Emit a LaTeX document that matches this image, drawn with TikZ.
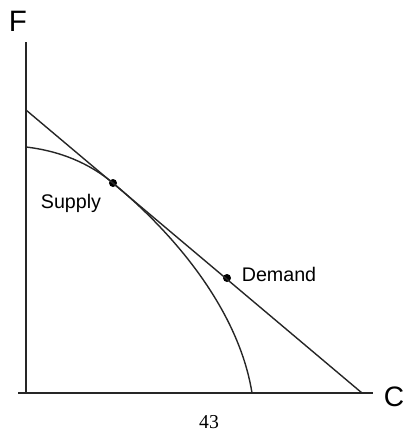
\documentclass[tikz,border=0pt]{standalone}
\usepackage{fontspec}
\setmainfont{Liberation Serif}
\setsansfont{Liberation Sans}
\usetikzlibrary{positioning}
\begin{document}
\begin{tikzpicture}[x=0.025cm, y=-0.025cm, font=\sffamily,
	axis/.style={line width=1pt, black!85},
	curve/.style={line width=1pt, black!85},
	dot/.style={circle, fill=black, minimum size=0.2cm, inner sep=0pt},
	hand/.style={font=\sffamily\fontsize{14}{16}\selectfont}]
	\useasboundingbox (0,0) rectangle (409,436);
	% axes
	\coordinate (origin) at (26,393); \coordinate (ftop) at (26,42);
	\coordinate (cleft) at (18,393); \coordinate (cright) at (373,393);
	\draw[axis] (origin) -- (ftop); \draw[axis] (cleft) -- (cright);
	\node (flabel) at (18,21) {\fontsize{21}{24}\selectfont F};
	\node (clabel) at (394,397) {\fontsize{20}{22}\selectfont C};
	% budget line and frontier
	\node[dot] (supplypt) at (113,183) {}; \node[dot] (demandpt) at (227,278) {};
	\coordinate (lineF) at (26,110); \coordinate (lineC) at (362,393);
	\coordinate (frontF) at (26,147); \coordinate (frontC) at (252,393);
	\draw[curve] (lineF) -- (lineC);
	\draw[curve] (frontF) .. controls (60,151) and (89,163) .. (supplypt.center)
		.. controls (185,243) and (240,318) .. (frontC);
	\node[hand] (supply) at (71,203) {Supply};
	\node[hand] (demand) at (279,274) {Demand};
	\node[font=\rmfamily\fontsize{14}{16}\selectfont] (page) at (209,422) {43};
\end{tikzpicture}
\end{document}
